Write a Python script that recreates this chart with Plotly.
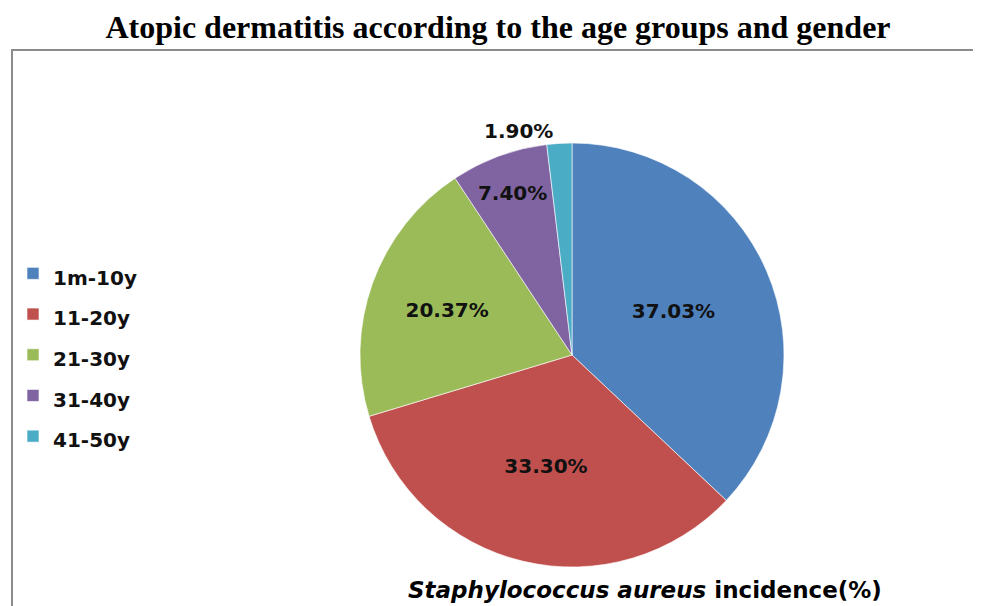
import plotly.graph_objects as go

labels = ["1m-10y", "11-20y", "21-30y", "31-40y", "41-50y"]
values = [37.03, 33.30, 20.37, 7.40, 1.90]
value_text = ["37.03%", "33.30%", "20.37%", "7.40%", "1.90%"]
colors = ["#4F81BD", "#C0504D", "#9BBB59", "#8064A2", "#4BACC6"]
text_pos = ["inside", "inside", "inside", "inside", "outside"]

# page body has an 8px margin; work in reference pixels and convert
OFF = 8
W, H = 981 - OFF, 606 - OFF


def X(px):
    return (px - OFF) / W


def Y(py):
    return 1 - (py - OFF) / H


cx, cy, r = 572, 355, 212

legend_labels = [f"<span style='font-size:20px'><b>{l}</b></span>" for l in labels]

fig = go.Figure(go.Pie(
    labels=legend_labels,
    values=values,
    text=value_text,
    textinfo="text",
    textposition=text_pos,
    insidetextorientation="horizontal",
    sort=False,
    direction="clockwise",
    rotation=0,
    marker=dict(colors=colors, line=dict(color="rgba(255,255,255,0.6)", width=1)),
    textfont=dict(family="DejaVu Sans", size=20, color="#111111", weight="bold"),
    domain=dict(x=[X(cx - r), X(cx + r)], y=[Y(cy + r), Y(cy - r)]),
    hoverinfo="text",
))

fig.update_layout(
    width=W, height=H,
    margin=dict(l=0, r=0, t=0, b=0),
    paper_bgcolor="white",
    title=dict(
        text="<b>Atopic dermatitis according to the age groups and gender</b>",
        x=X(498), xanchor="center", xref="container",
        y=Y(27), yanchor="middle", yref="container",
        font=dict(family="Liberation Serif", size=32, color="black"),
    ),
    showlegend=True,
    legend=dict(
        x=X(13), y=Y(248), xanchor="left", yanchor="top",
        font=dict(family="DejaVu Sans", size=29, color="#111111"),
        bgcolor="rgba(0,0,0,0)",
    ),
    shapes=[dict(type="rect", xref="paper", yref="paper",
                 x0=X(12), x1=1.02, y0=-0.02, y1=Y(50),
                 line=dict(color="#8c8c8c", width=2))],
    annotations=[
        dict(text="<i>Staphylococcus aureus</i> incidence(%)",
             x=X(884), y=Y(590), xref="paper", yref="paper",
             xanchor="right", yanchor="middle", showarrow=False,
             font=dict(family="DejaVu Sans", size=23, color="black", weight="bold")),
    ],
)

fig.write_html("out.html")
